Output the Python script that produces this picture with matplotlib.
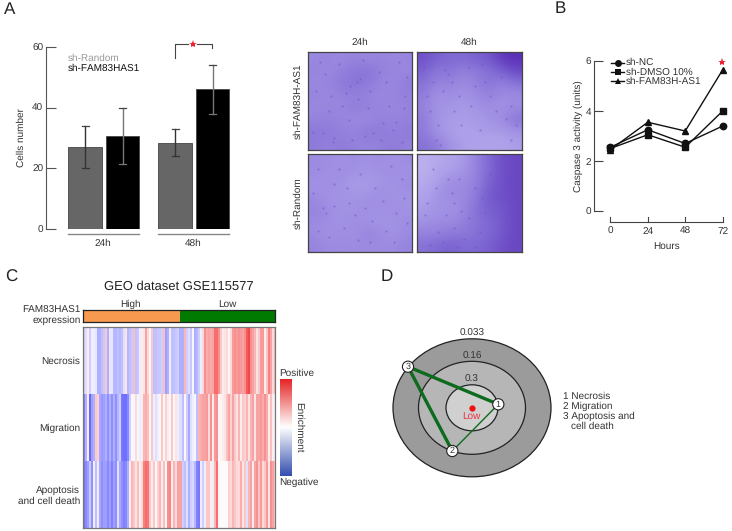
import numpy as np
import matplotlib
matplotlib.use("Agg")
import matplotlib.pyplot as plt
from matplotlib.colors import LinearSegmentedColormap
from matplotlib.patches import Ellipse, Circle, Rectangle

# ---------------- DATA ----------------

A_GROUPS = ["24h", "48h"]
A_VALUES = [27, 30.5, 28.5, 46]
A_ERR_LOW = [20, 21.5, 24, 38]
A_ERR_HIGH = [34, 40, 33, 54]
A_YTICKS = [0, 20, 40, 60]

B_HOURS = [0, 24, 48, 72]
B_NC = [2.55, 3.25, 2.7, 3.4]
B_DMSO = [2.5, 3.05, 2.55, 4.0]
B_FAM = [2.45, 3.55, 3.2, 5.65]
B_YTICKS = [0, 2, 4, 6]

NECROSIS = [-.3, -.2, .1, -.3, -.1, -.1, -.15, -.5, -.5, -.4, -.35, .3, -.5, -.15, -.15, -.45,
            -.45, -.4, -.45, -.4, -.2, .15, -.45, -.4, -.35, .35, -.4, -.35, -.1, .1, .15, .5,
            .2, .05, .3, -.4, -.4, -.35, -.35, -.3, .35, -.6, -.5, -.1, -.4, -.4, -.35, -.3,
            -.5, -.5, .4, -.3, -.2, -.35, -.05, -.5, -.45, -.3, -.1, .2, .6, .45, .5, .45,
            .5, .8, .8, .6, .3, .1, .15, .2, .05, .2, .55, .6, .55, .6, .55, .5,
            .6, .9, 1, .6, .5, .4, .15, .3, .55, .55, .1, .3, .7, .5, .2, .4]
MIGRATION = [-.8, -.5, .1, -.95, -.6, -.5, .3, .25, -.55, -.65, -.6, -.5, -.7, -.5, -.7, -.5,
             -.7, -.45, -.3, -.85, -.9, -.9, -.75, -.3, .05, -.05, .2, -.05, -.1, .1, .4, .45,
             .35, .05, .3, -.1, -.2, -.1, .05, .3, .05, .25, .1, -.05, .3, .05, .15, -.1,
             -.2, -.4, .05, -.3, -.55, -.2, -.1, -.05, -.4, .4, .45, .5, .5, .55, .2, .6,
             .1, .55, .6, .05, .05, .1, .15, .35, .5, .25, .5, .3, .15, .4, .1, .3,
             .25, .4, .15, .4, .5, .15, .5, .5, .55, .45, .6, .45, .1, .35, .1, -.1]
APOPTOSIS = [-.85, -.75, -.6, -.35, -.7, -.1, -.4, -.1, -.55, -.7, -.6, -.6, -.75, -.6, -.8, -.6,
             -.7, -.2, -.55, -.7, -.8, -.75, -.5, .1, .4, .3, .15, .35, .1, .2, .7, .8,
             .75, .3, .1, .3, .05, .25, .4, .1, .35, .05, .6, .65, .1, .4, .2, .5,
             .5, -.3, -.4, -.2, -.5, -.3, -.25, -.45, -.8, -.85, -.1, -.3, -.1, .3, .3, .1,
             -.1, .4, .8, .05, -.02, .02, .02, -.02, .25, .2, .4, .3, .2, .2, .45, .15,
             .3, -.2, .4, .5, .1, .5, .6, .3, .55, .2, .3, .55, .15, .6, .5, .3]
HEAT_ROWS = ["Necrosis", "Migration", "Apoptosis\nand cell death"]

# staining density of the micrographs, 0 light, 1 dark, read per tile
MICRO_24_FAM = [[.45, .5, .45, .5, .45, .5, .45, .5],
                [.5, .45, .5, .55, .6, .5, .5, .45],
                [.45, .5, .55, .6, .55, .5, .45, .55],
                [.5, .45, .5, .5, .5, .45, .5, .5],
                [.45, .5, .45, .55, .5, .5, .45, .5],
                [.5, .5, .5, .45, .45, .5, .5, .5],
                [.55, .55, .5, .5, .55, .55, .5, .55],
                [.55, .5, .55, .5, .5, .5, .55, .5]]
MICRO_48_FAM = [[.8, .7, .65, .65, .7, .75, .95, 1],
                [.7, .55, .6, .5, .55, .6, .7, .85],
                [.6, .5, .5, .45, .5, .6, .5, .6],
                [.55, .4, .45, .4, .45, .5, .45, .45],
                [.5, .4, .4, .35, .4, .45, .4, .45],
                [.55, .4, .35, .35, .35, .4, .45, .6],
                [.55, .4, .35, .3, .35, .35, .35, .4],
                [.6, .55, .4, .35, .3, .3, .3, .35]]
MICRO_24_RANDOM = [[.45, .45, .4, .45, .4, .45, .4, .45],
                   [.45, .4, .45, .4, .4, .4, .45, .4],
                   [.4, .45, .4, .35, .35, .4, .4, .45],
                   [.45, .4, .4, .4, .4, .45, .4, .4],
                   [.5, .45, .4, .4, .45, .4, .45, .4],
                   [.45, .45, .4, .45, .4, .4, .4, .45],
                   [.45, .4, .45, .4, .5, .45, .4, .45],
                   [.5, .45, .45, .45, .45, .45, .45, .5]]
MICRO_48_RANDOM = [[.2, .25, .3, .35, .5, .65, .8, .85],
                   [.2, .3, .35, .4, .5, .65, .8, .85],
                   [.25, .35, .45, .45, .5, .7, .8, .85],
                   [.3, .4, .45, .45, .55, .75, .8, .85],
                   [.35, .4, .4, .45, .6, .7, .75, .85],
                   [.4, .45, .45, .5, .6, .65, .75, .85],
                   [.5, .5, .55, .55, .6, .65, .75, .85],
                   [.6, .65, .7, .65, .65, .7, .8, .85]]

# darker clusters in the micrographs, fractions of the tile (x, y)
SPOTS_24_FAM = [(.5, .27), (.47, .3), (.41, .35), (.37, .42), (.2, .6), (.58, .57), (.85, .72),
                (.25, .88), (.55, .86), (.63, .83), (.82, .8), (.92, .57), (.05, .82), (.33, .55),
                (.9, .92), (.72, .73), (.12, .1), (.75, .3), (.93, .45), (.22, .45), (.24, .92),
                (.15, .83), (.4, .7), (.48, .48), (.68, .2), (.3, .12), (.08, .4), (.6, .4),
                (.78, .55), (.42, .9), (.7, .9), (.95, .25), (.53, .08), (.17, .22), (.88, .1)]
SPOTS_48_FAM = [(.25, .4), (.3, .22), (.55, .35), (.7, .45), (.85, .68), (.18, .9), (.42, .75),
                (.6, .8), (.12, .6), (.8, .25), (.35, .6), (.9, .9), (.27, .18), (.33, .3),
                (.15, .3), (.07, .15), (.5, .15), (.65, .3), (.9, .55), (.75, .6), (.2, .75),
                (.52, .55), (.4, .45), (.1, .45), (.62, .12), (.22, .95), (.95, .75)]
SPOTS_24_RANDOM = [(.15, .55), (.25, .3), (.75, .78), (.55, .55), (.45, .62), (.85, .6), (.2, .85),
                   (.35, .75), (.65, .35), (.1, .15), (.9, .25), (.6, .9), (.18, .6), (.25, .53),
                   (.4, .5), (.72, .48), (.05, .4), (.3, .15), (.5, .2), (.8, .12), (.95, .7),
                   (.62, .68), (.1, .78), (.48, .88), (.83, .9), (.38, .35), (.92, .45)]
SPOTS_48_RANDOM = [(.1, .5), (.3, .25), (.35, .5), (.2, .8), (.25, .9), (.45, .87), (.5, .65),
                   (.65, .6), (.7, .2), (.15, .15), (.55, .95), (.35, .75), (.08, .62), (.18, .35),
                   (.33, .4), (.42, .58), (.28, .62), (.4, .25), (.55, .35), (.12, .93), (.6, .8),
                   (.38, .95), (.75, .92), (.93, .95), (.62, .45)]

D_LEVELS = ["0.033", "0.16", "0.3"]
D_NODES = {"1": (498.3, 404.3), "2": (452.3, 451.0), "3": (408.0, 366.7)}
D_EDGES = [("1", "3", 2.4), ("2", "3", 2.4), ("1", "2", 1.0)]
D_LEGEND = ["1 Necrosis", "2 Migration", "3 Apoptosis and"]

# ---------------- STYLE ----------------

W, H = 732, 531
TXT = "#333333"
plt.rcParams["font.family"] = ["Liberation Sans", "DejaVu Sans"]
plt.rcParams["font.size"] = 7.2
plt.rcParams["text.color"] = TXT
plt.rcParams["text.hinting"] = "none"
plt.rcParams["text.hinting_factor"] = 1


def px_axes(fig, x0, y0, x1, y1):
    # axes placed with pixel corners, y counted from the top
    return fig.add_axes([x0 / W, 1 - y1 / H, (x1 - x0) / W, (y1 - y0) / H])


fig = plt.figure(figsize=(W / 100, H / 100), dpi=100)

# overlay in pixel coordinates for labels and decoration
ov = fig.add_axes([0, 0, 1, 1], zorder=5)
ov.set_xlim(0, W)
ov.set_ylim(H, 0)
ov.axis("off")
ov.patch.set_alpha(0)


def label(x, y, s, **kw):
    kw.setdefault("ha", "center")
    kw.setdefault("va", "center")
    ov.text(x, y, s, **kw)


for s, x, y in [("A", 10, 10), ("B", 560, 9), ("C", 11, 277), ("D", 387, 277)]:
    label(x, y, s, fontsize=12, color="#222222")

# ---------------- PANEL A ----------------

ax = px_axes(fig, 46, 47, 232, 229)
ax.set_xlim(46, 232)
ax.set_ylim(0, 60)
bar_x = [85, 122.5, 175, 212.5]
bar_col = ["#666666", "#000000", "#666666", "#000000"]
err_col = ["#333333", "#777777", "#333333", "#777777"]
ax.bar(bar_x, A_VALUES, width=33.5, color=bar_col, edgecolor="#444444", linewidth=0.6)
for xp, lo, hi, c in zip(bar_x, A_ERR_LOW, A_ERR_HIGH, err_col):
    ax.plot([xp, xp], [lo, hi], color=c, lw=1.0, clip_on=False)
    ax.plot([xp - 3.5, xp + 3.5], [hi, hi], color="#444444", lw=0.9, clip_on=False)
    ax.plot([xp - 3.5, xp + 3.5], [lo, lo], color=c, lw=0.9, clip_on=False)
for sp in ["top", "right", "bottom"]:
    ax.spines[sp].set_visible(False)
ax.spines["left"].set_color("#555555")
ax.set_yticks(A_YTICKS)
ax.tick_params(axis="y", direction="in", length=9.5 * 0.72, width=0.8, color="#555555", pad=2, labelcolor=TXT)
ax.set_xticks([])
ax.patch.set_alpha(0)
label(21, 138, "Cells number", rotation=90)

ov.plot([68, 139], [233.7, 233.7], color="#888888", lw=1.0)
ov.plot([158, 228.5], [233.7, 233.7], color="#888888", lw=1.0)
label(103, 243.5, A_GROUPS[0])
label(193, 243.5, A_GROUPS[1])
label(68, 58.7, "sh-Random", ha="left", color="#999999")
label(68, 68.3, "sh-FAM83HAS1", ha="left", color="#111111")
ov.plot([174.7, 174.7, 188], [57.5, 44.3, 44.3], color="#444444", lw=0.8)
ov.plot([197, 212, 212], [44.3, 44.3, 48], color="#444444", lw=0.8)
ov.plot([192.7], [44.3], marker="*", color="#ee2233", ms=6, mew=0)

# ---------------- MICROGRAPHS ----------------

micro_cmap = LinearSegmentedColormap.from_list(
    "stain", ["#d2c9f5", "#ad9fe9", "#7d66d2", "#5a2fb8"])
micro_tiles = [
    (307.7, 52.3, 412, 149.7, MICRO_24_FAM, SPOTS_24_FAM),
    (417, 52.3, 521.7, 149.7, MICRO_48_FAM, SPOTS_48_FAM),
    (307.7, 154.3, 412, 252, MICRO_24_RANDOM, SPOTS_24_RANDOM),
    (417, 154.3, 521.7, 252, MICRO_48_RANDOM, SPOTS_48_RANDOM),
]
for x0, y0, x1, y1, tones, spots in micro_tiles:
    m = px_axes(fig, x0, y0, x1, y1)
    m.imshow(tones, cmap=micro_cmap, vmin=0, vmax=1, aspect="auto",
             interpolation="bicubic", extent=(0, 1, 1, 0))
    m.scatter([p[0] for p in spots], [p[1] for p in spots], s=2.5, color="#6a50c4",
              alpha=0.45, linewidths=0)
    m.set_xlim(0, 1)
    m.set_ylim(1, 0)
    m.set_xticks([])
    m.set_yticks([])
    for sp in m.spines.values():
        sp.set_color("#444444")
        sp.set_linewidth(0.9)

label(360, 42, "24h")
label(469, 42, "48h")
label(298, 101, "sh-FAM83H-AS1", rotation=90)
label(298, 203, "sh-Random", rotation=90)

# ---------------- PANEL B ----------------

ax = px_axes(fig, 594, 61, 728, 211)
ax.set_xlim(-(610.3 - 594) * 72 / 112.4, 72 + (728 - 722.7) * 72 / 112.4)
ax.set_ylim(0, 6)
line_kw = dict(color="#111111", lw=1.0, clip_on=False)
ax.plot(B_HOURS, B_NC, marker="o", ms=4.6, **line_kw)
ax.plot(B_HOURS, B_DMSO, marker="s", ms=4.6, **line_kw)
ax.plot(B_HOURS, B_FAM, marker="^", ms=4.2, **line_kw)
for sp in ["top", "right", "bottom"]:
    ax.spines[sp].set_visible(False)
ax.spines["left"].set_color("#444444")
ax.set_yticks(B_YTICKS)
ax.set_xticks([])
ax.tick_params(axis="y", direction="in", length=6.5, width=0.8, color="#444444", pad=2, labelcolor=TXT)
ax.patch.set_alpha(0)
label(578, 136, "Caspase 3 activity (units)", rotation=90)

xs = [610.3, 647.8, 685.2, 722.7]
ov.plot([xs[0], xs[-1]], [222.3, 222.3], color="#444444", lw=0.8)
for xp, h in zip(xs, B_HOURS):
    ov.plot([xp, xp], [216.5, 222.3], color="#444444", lw=0.8)
    label(xp, 231, str(h))
label(666.5, 246, "Hours")
for yp, mk, ms, s in [(62.7, "o", 5, "sh-NC"), (72, "s", 5, "sh-DMSO 10%"), (81.3, "^", 4.5, "sh-FAM83H-AS1")]:
    ov.plot([611, 624], [yp, yp], color="#111111", lw=1.0)
    ov.plot([617.5], [yp], marker=mk, ms=ms, color="#111111", mew=0)
    label(626, yp, s, ha="left", fontsize=7.4)
ov.plot([722.3], [62], marker="*", color="#ee2233", ms=6, mew=0)

# ---------------- PANEL C ----------------

label(178.5, 286.5, "GEO dataset GSE115577", fontsize=9.6, color="#222222")
label(130, 304, "High")
label(227.5, 304.5, "Low")
label(81, 310, "FAM83HAS1", ha="right")
label(81, 320.5, "expression", ha="right")

ann = px_axes(fig, 82.7, 309.5, 275, 322)
ann.set_xlim(82.7, 275)
ann.set_ylim(0, 1)
ann.add_patch(Rectangle((82.7, 0), 180 - 82.7, 1, color="#f79a50", lw=0))
ann.add_patch(Rectangle((180, 0), 275 - 180, 1, color="#007a00", lw=0))
ann.set_xticks([])
ann.set_yticks([])
for sp in ann.spines.values():
    sp.set_color("#222222")
    sp.set_linewidth(0.9)

heat_cmap = LinearSegmentedColormap.from_list(
    "enrich", ["#3a3aff", "#ffffff", "#f01c1c"])
hm = px_axes(fig, 82.7, 327.3, 275, 527.7)
hm.imshow([NECROSIS, MIGRATION, APOPTOSIS], cmap=heat_cmap, vmin=-1.25, vmax=1.25,
          aspect="auto", interpolation="nearest")
hm.set_xticks([])
hm.set_yticks([0, 1, 2])
hm.set_yticklabels(HEAT_ROWS, ha="right", linespacing=1.15)
hm.tick_params(axis="y", length=0, pad=2, labelcolor=TXT)
for sp in hm.spines.values():
    sp.set_color("#777777")
    sp.set_linewidth(0.9)

bar_cmap = LinearSegmentedColormap.from_list(
    "enrich_bar", ["#3550b0", "#ffffff", "#e52222"])
cb = px_axes(fig, 280, 378.5, 292, 476)
cb.imshow(np.linspace(1, 0, 100).reshape(-1, 1), cmap=bar_cmap, aspect="auto")
cb.axis("off")
label(279, 373.5, "Positive", ha="left")
label(279, 482, "Negative", ha="left")
label(299, 427, "Enrichment", rotation=270)

# ---------------- PANEL D ----------------

cx, cy = 472, 407.8
rings = [(158, 138, "#9b9b9b"), (107, 93, "#b6b6b6"), (52, 46, "#d0d0d0")]
for w, h, c in rings:
    ov.add_patch(Ellipse((cx, cy), w, h, facecolor=c, edgecolor="#222222", lw=0.9))
for s, y in zip(D_LEVELS, [333.5, 356, 379.5]):
    label(cx, y, s, color="#333333")
for a, b, lw in D_EDGES:
    ov.plot([D_NODES[a][0], D_NODES[b][0]], [D_NODES[a][1], D_NODES[b][1]], color="#0d6b1d", lw=lw)
for k, (xp, yp) in D_NODES.items():
    ov.add_patch(Circle((xp, yp), 5.6, facecolor="white", edgecolor="#222222", lw=0.8, zorder=4))
    label(xp, yp, k, zorder=5, fontsize=6.8)
ov.plot([cx], [cy], marker="o", ms=4.5, color="#ee1111", mew=0)
label(cx - 1, 416.5, "Low", color="#ee3344")
for s, y in zip(D_LEGEND, [396, 406, 416]):
    label(562.7, y, s, ha="left")
label(570.7, 426, "cell death", ha="left")

fig.savefig("out.png", dpi=100)
